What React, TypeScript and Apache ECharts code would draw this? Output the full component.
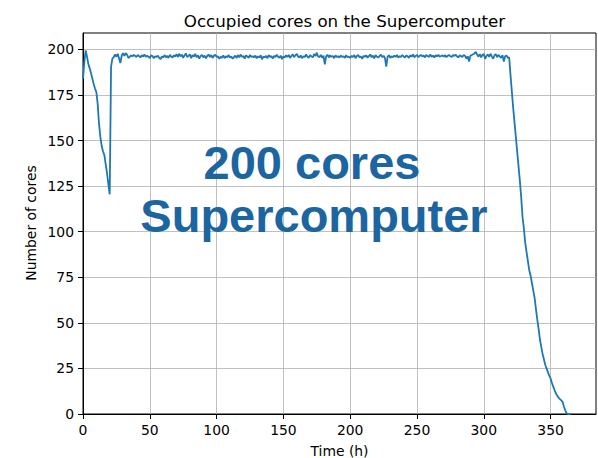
import React, { useEffect, useRef } from "react";
import * as echarts from "echarts";

// Start-up phase (hours, cores)
const startTimes = [0, 1, 2, 3, 4, 5, 6, 7, 8, 9, 10, 11, 12, 13, 14, 15, 16, 17, 18, 19, 20, 21, 22];
const startCores = [184, 193, 199.5, 196, 192, 189.6, 187, 184, 181, 178.5, 176.6, 170, 159, 152, 147, 144, 142, 137, 132, 126, 120.5, 190.5, 195];

// Plateau, hourly from t = 23 h to t = 319 h
const plateauStart = 23;
const plateauCores = [
  195.8, 197.2, 196.0, 197.6, 195.0, 192.5, 196.8, 197.9, 196.4, 198.0,
  197.1, 195.3, 195.9, 196.7, 196.2, 197.0, 196.5, 195.8, 196.9, 196.3,
  195.6, 196.8, 196.1, 197.2, 195.9, 196.5, 196.0, 195.2, 196.7, 196.4,
  195.1, 196.3, 195.8, 196.6, 195.4, 194.6, 196.2, 195.5, 196.9, 195.7,
  196.4, 195.3, 197.0, 196.1, 195.6, 196.8, 196.0, 197.4, 195.9, 197.6,
  196.2, 197.1, 195.4, 196.7, 197.8, 195.8, 196.5, 197.3, 195.2, 196.9,
  196.1, 197.5, 195.7, 196.8, 194.9, 196.3, 197.0, 195.6, 196.6, 195.1,
  196.4, 197.2, 195.8, 196.9, 195.3, 196.5, 197.1, 195.9, 196.2, 194.8,
  196.0, 195.4, 196.7, 195.2, 196.3, 195.7, 196.9, 195.5, 196.1, 194.9,
  195.8, 196.6, 195.3, 196.9, 195.6, 197.2, 195.9, 196.4, 195.0, 196.7,
  196.1, 195.4, 197.0, 195.8, 196.3, 195.6, 196.6, 195.1, 196.2, 195.5,
  196.8, 194.6, 196.0, 195.7, 196.4, 195.2, 196.9, 195.9, 196.3, 195.0,
  196.5, 195.8, 197.1, 196.0, 195.4, 196.6, 194.7, 196.2, 195.6, 196.8,
  195.9, 197.0, 195.3, 196.4, 197.3, 195.7, 196.8, 197.6, 196.1, 195.5,
  196.7, 195.2, 196.3, 195.8, 197.2, 196.0, 195.4, 196.9, 196.2, 195.6,
  197.5, 196.3, 198.2, 196.1, 195.8, 197.0, 195.4, 196.6, 191.8, 196.2,
  197.1, 195.6, 196.8, 195.9, 196.4, 195.2, 196.7, 195.8, 196.3, 195.5,
  196.6, 195.9, 196.2, 195.4, 196.8, 195.7, 196.1, 195.3, 196.5, 195.8,
  196.9, 195.2, 196.4, 197.0, 195.6, 196.2, 194.8, 196.5, 195.9, 196.8,
  195.4, 196.3, 197.2, 195.7, 196.6, 195.1, 196.9, 196.0, 195.5, 196.4,
  197.1, 195.8, 196.5, 195.3, 190.6, 196.0, 196.8, 195.4, 196.2, 195.7,
  196.6, 195.9, 197.0, 195.5, 196.3, 195.8, 196.9, 196.1, 195.6, 196.7,
  196.2, 195.4, 196.8, 196.0, 197.3, 195.7, 196.4, 196.9, 195.8, 196.5,
  197.0, 196.1, 196.7, 195.6, 196.9, 196.3, 195.9, 197.2, 196.0, 196.6,
  195.5, 196.8, 196.2, 197.1, 195.9, 196.4, 196.7, 196.0, 196.9, 195.7,
  196.5, 197.0, 196.2, 195.8, 196.9, 196.4, 197.1, 196.1, 195.6, 196.8,
  196.3, 195.9, 197.0, 196.4, 194.9, 196.2, 193.4, 196.6, 196.9, 197.3,
  197.8, 198.6, 197.2, 196.0, 197.4, 195.6, 196.9, 197.5, 194.8, 196.4,
  197.3, 195.9, 197.6, 196.2, 194.9, 196.8, 197.4, 195.7, 197.0, 196.1,
  195.4, 196.9, 193.3, 196.2, 196.7, 195.4, 195.6,
];

// Wind-down phase (hours, cores)
const endTimes = [320, 321, 322, 323, 324, 325, 326, 327, 328, 329, 330, 331, 332, 333, 334, 335, 336, 337, 338, 339, 340, 341, 342, 343, 344, 345, 346, 347, 348, 349, 350, 351, 352, 353, 354, 355, 356, 357, 358, 359, 360, 361, 362, 363, 364, 365];
const endCores = [186, 177, 168, 160, 152, 144, 136, 128, 119, 108, 102, 94, 89, 84, 79, 76, 72, 68, 64, 58, 52, 47, 41, 37, 33, 30, 27, 25, 23, 21, 19.5, 17, 15, 13, 11.3, 10, 9, 8.2, 7.5, 6.7, 4, 2, 0.4, 0, 0, 0];

const xTicks = [0, 50, 100, 150, 200, 250, 300, 350];
const yTicks = [0, 25, 50, 75, 100, 125, 150, 175, 200];

const titleText = "Occupied cores on the Supercomputer";
const xName = "Time (h)";
const yName = "Number of cores";
const watermark = ["200 cores", "Supercomputer"];

export default function App() {
  const ref = useRef<HTMLDivElement>(null);
  useEffect(() => {
    if (!ref.current) return;
    const chart = echarts.init(ref.current, null, { renderer: "svg" });
    const data: [number, number][] = [];
    startTimes.forEach((t, i) => data.push([t, startCores[i]]));
    plateauCores.forEach((v, i) => data.push([plateauStart + i, v]));
    endTimes.forEach((t, i) => data.push([t, endCores[i]]));
    const font = "DejaVu Sans";
    const axisCommon = {
      axisLine: { show: true, lineStyle: { color: "#000", width: 1 } },
      axisTick: { show: true, inside: false, length: 5, lineStyle: { color: "#000", width: 1 } },
      splitLine: { show: true, lineStyle: { color: "#b0b0b0", width: 0.8 } },
      axisLabel: { color: "#000", fontFamily: font, fontSize: 13.9, margin: 9 },
    };
    const wmFont = "bold 47px 'Liberation Sans'";
    chart.setOption({
      animation: false,
      backgroundColor: "#fff",
      textStyle: { fontFamily: font },
      title: {
        text: titleText,
        left: 339.5,
        top: 7,
        textAlign: "center",
        textStyle: { fontFamily: font, fontSize: 16.7, fontWeight: "normal", color: "#000" },
      },
      grid: { left: 83, right: 2, top: 33, bottom: 44, show: true, borderColor: "#000", borderWidth: 1, backgroundColor: "transparent" },
      xAxis: {
        type: "value",
        min: 0,
        max: 384,
        interval: 50,
        ...axisCommon,
        axisTick: { ...axisCommon.axisTick, customValues: xTicks },
        axisLabel: { ...axisCommon.axisLabel, customValues: xTicks },
      },
      yAxis: {
        type: "value",
        min: 0,
        max: 209,
        interval: 25,
        ...axisCommon,
        axisTick: { ...axisCommon.axisTick, customValues: yTicks },
        axisLabel: { ...axisCommon.axisLabel, customValues: yTicks },
      },
      series: [
        {
          type: "line",
          data,
          showSymbol: false,
          symbol: "none",
          lineStyle: { color: "#1f77b4", width: 1.8 },
          itemStyle: { color: "#1f77b4" },
          z: 3,
        },
      ],
      graphic: [
        {
          type: "text",
          x: 339.5,
          y: 451,
          style: { text: xName, font: `13.9px ${font}`, fill: "#000", textAlign: "center", textVerticalAlign: "middle" },
        },
        {
          type: "text",
          x: 31,
          y: 223,
          rotation: Math.PI / 2,
          style: { text: yName, font: `13.9px ${font}`, fill: "#000", textAlign: "center", textVerticalAlign: "middle" },
        },
        {
          type: "text",
          x: 312,
          y: 162,
          z: 10,
          style: { text: watermark[0], font: wmFont, fill: "#1b65a1", textAlign: "center", textVerticalAlign: "middle" },
        },
        {
          type: "text",
          x: 314,
          y: 215,
          z: 10,
          style: { text: watermark[1], font: wmFont, fill: "#1b65a1", textAlign: "center", textVerticalAlign: "middle" },
        },
      ],
    });
    return () => chart.dispose();
  }, []);
  return <div ref={ref} style={{ width: 598, height: 458, position: "absolute", left: 0, top: 0 }} />;
}
